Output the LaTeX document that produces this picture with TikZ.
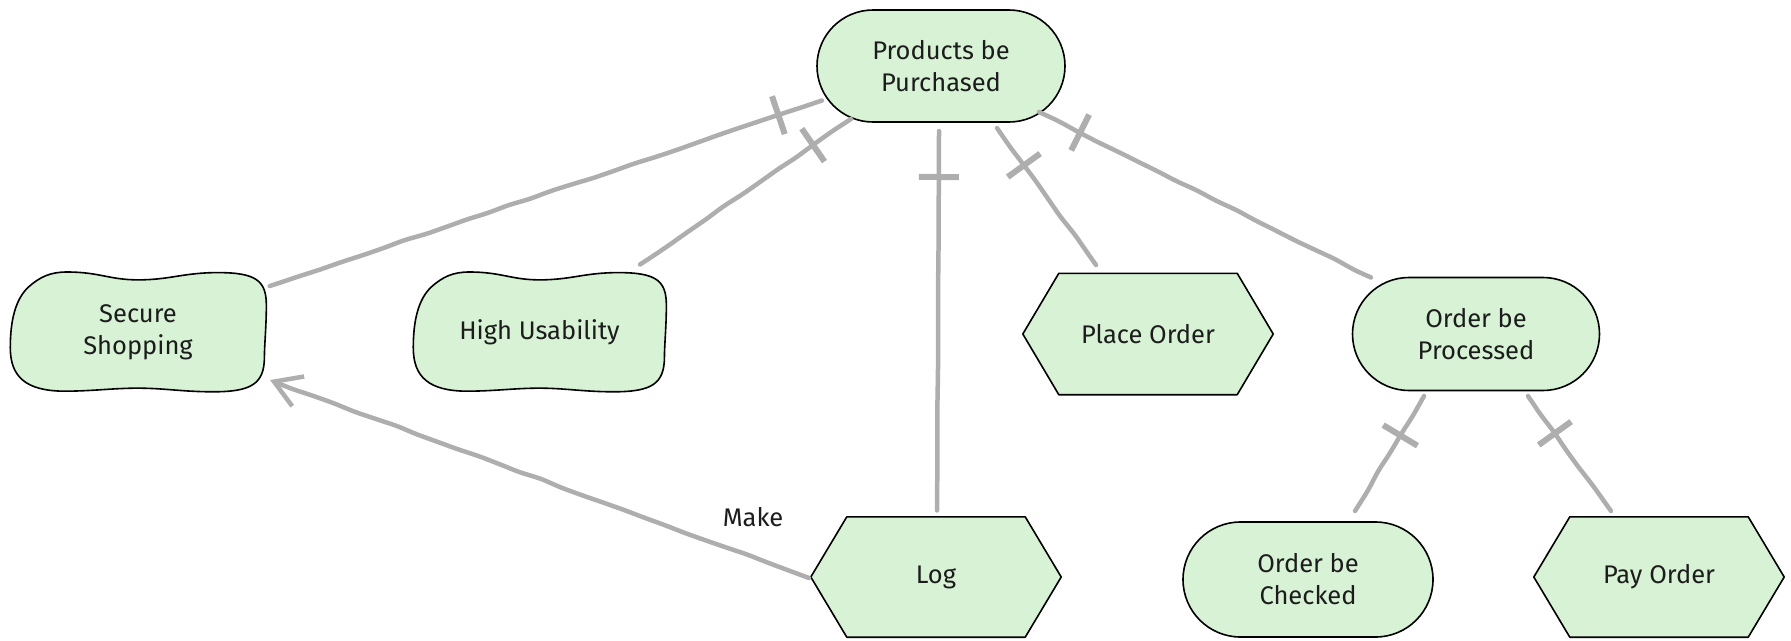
\documentclass[tikz,border=0pt]{standalone}
\usepackage{fontspec}
\setmainfont{Fira Sans}
\usetikzlibrary{shapes.misc,calc,decorations.pathmorphing,decorations.markings,arrows.meta}

\definecolor{goalfill}{RGB}{215,242,213}
\definecolor{linkgrey}{RGB}{174,174,174}
\definecolor{inkdark}{RGB}{28,28,28}

\pgfdeclarelayer{background}
\pgfsetlayers{background,main}

\tikzset{
  lbl/.style={font=\fontsize{25.5}{32}\selectfont, text=inkdark, align=center},
  stadium/.style={lbl, rounded rectangle, draw=black, line width=1.6pt,
    fill=goalfill, minimum width=248pt, minimum height=112pt, inner sep=0pt},
  plainbox/.style={lbl, rectangle, minimum width=250pt, minimum height=121pt, inner sep=0pt},
  outline/.style={draw=black, line width=1.6pt, fill=goalfill, line join=round},
  link/.style={draw=linkgrey, line width=4.5pt, line cap=round, line join=round,
    rounded corners=6pt,
    decorate, decoration={random steps, segment length=22pt, amplitude=0.8pt}},
  barmark/.style={postaction={decorate, decoration={markings,
    mark=at position 46pt with {\draw[draw=linkgrey, line width=6pt] (0pt,-20pt) -- (0pt,20pt);}}}},
}

% hexagon drawn around a rectangular text node
\newcommand{\hexoutline}[1]{%
  \path[outline] (#1.west) -- ($(#1.north west)+(36,0)$) -- ($(#1.north east)+(-36,0)$)
    -- (#1.east) -- ($(#1.south east)+(-36,0)$) -- ($(#1.south west)+(36,0)$) -- cycle;}

% soft wavy outline around a rectangular text node
\newcommand{\bloboutline}[3]{%
  \begin{scope}[shift={(#1.center)}, x=#2pt, y=-#3pt]
    \path[outline] (-0.55,-1.0)
      .. controls (-0.3,-1.0) and (-0.22,-0.87) .. (0,-0.87)
      .. controls (0.25,-0.87) and (0.35,-0.99) .. (0.62,-0.99)
      .. controls (0.92,-0.99) and (0.995,-0.85) .. (0.995,-0.45)
      .. controls (0.995,-0.1) and (0.98,0.2) .. (0.98,0.4)
      .. controls (0.98,0.85) and (0.88,0.98) .. (0.58,0.98)
      .. controls (0.35,0.98) and (0.2,0.92) .. (0,0.92)
      .. controls (-0.2,0.92) and (-0.35,0.97) .. (-0.58,0.97)
      .. controls (-0.86,0.96) and (-0.99,0.75) .. (-0.99,0.25)
      .. controls (-0.99,-0.2) and (-0.95,-0.55) .. (-0.85,-0.75)
      .. controls (-0.76,-0.92) and (-0.68,-1.0) .. (-0.55,-1.0) -- cycle;
  \end{scope}}

\begin{document}
\begin{tikzpicture}[x=1pt, y=-1pt]
\pgfmathsetseed{11}
\path[use as bounding box] (0,0) rectangle (1791,640);

% goals and tasks
\node[stadium] (pp) at (941,66) {Products be\\Purchased};
\node[plainbox, minimum width=258pt] (ss) at (138,332.5) {Secure\\Shopping};
\node[plainbox, minimum width=255pt] (hu) at (539.5,332.5) {High Usability};
\node[plainbox] (po) at (1148,334) {Place Order};
\node[stadium, minimum width=247pt, minimum height=113pt] (obp) at (1476,334) {Order be\\Processed};
\node[plainbox, minimum height=120pt] (log) at (936,577) {Log};
\node[stadium, minimum width=250pt, minimum height=115pt] (obc) at (1308,579.5) {Order be\\Checked};
\node[plainbox, minimum height=120pt] (pay) at (1659,577) {Pay Order};

\begin{pgfonlayer}{background}
  \bloboutline{ss}{129}{60.5}
  \bloboutline{hu}{127.5}{60.5}
  \hexoutline{po}
  \hexoutline{log}
  \hexoutline{pay}
\end{pgfonlayer}

% connector end points
\coordinate (pp-ss) at ($(pp)+(-119,34.5)$);
\coordinate (ss-pp) at ($(ss)+(131.6,-46.4)$);
\coordinate (pp-hu) at ($(pp)+(-90,53)$);
\coordinate (hu-pp) at ($(hu)+(100.5,-68)$);
\coordinate (pp-log) at ($(pp)+(-2,65)$);
\coordinate (log-pp) at ($(log)+(1,-66.5)$);
\coordinate (pp-po) at ($(pp)+(56,62)$);
\coordinate (po-pp) at ($(po)+(-52,-69)$);
\coordinate (pp-obp) at ($(pp)+(98,46)$);
\coordinate (obp-pp) at ($(obp)+(-105,-56.5)$);
\coordinate (obp-obc) at ($(obp)+(-52,62)$);
\coordinate (obc-obp) at ($(obc)+(47,-68.5)$);
\coordinate (obp-pay) at ($(obp)+(52,62)$);
\coordinate (pay-obp) at ($(pay)+(-48,-66)$);
\coordinate (log-ss) at ($(log)+(-127,1)$);
\coordinate (ss-log) at ($(ss)+(132,47.5)$);

% refinement links with bar marks
\foreach \a/\b in {pp-ss/ss-pp, pp-hu/hu-pp, pp-po/po-pp,
                   pp-obp/obp-pp, obp-obc/obc-obp, obp-pay/pay-obp} {
  \draw[link] (\a) -- (\b);
  \path[barmark] (\a) -- (\b);
}
\draw[link, decoration={random steps, segment length=40pt, amplitude=0.3pt}] (pp-log) -- (log-pp);
\path[barmark] (pp-log) -- (log-pp);

% contribution link
\draw[link, -{Straight Barb[length=26pt, width=32pt, line width=4.5pt]}] (log-ss) -- (ss-log);
\node[lbl] (make) at (753,517) {Make};
\end{tikzpicture}
\end{document}
